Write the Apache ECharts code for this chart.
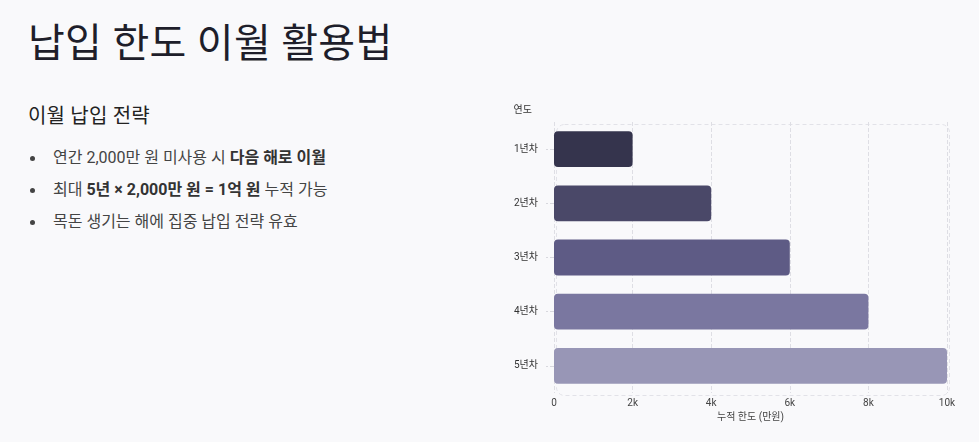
<!DOCTYPE html>
<html>
<head>
<meta charset="utf-8">
<script src="https://cdn.jsdelivr.net/npm/echarts@6/dist/echarts.min.js"></script>
<style>
  html, body { margin: 0; padding: 0; }
  body {
    width: 979px; height: 442px; background: #f9f9fb; position: relative; overflow: hidden;
    font-family: Roboto, "Noto Sans CJK KR", sans-serif; color: #222;
  }
  h1 { position: absolute; left: 28px; top: 11px; margin: 0; font-size: 40px; font-weight: 400; color: #1e1e2a; letter-spacing: 0.3px; }
  h2 { position: absolute; left: 28px; top: 100px; margin: 0; font-size: 20px; font-weight: 400; color: #222; letter-spacing: 0.2px; }
  ul { position: absolute; left: 28px; top: 142px; margin: 0; padding: 0; list-style: none; }
  li { position: relative; padding-left: 25px; font-size: 16px; color: #444; line-height: 32px; height: 32px; }
  li::before { content: ""; position: absolute; left: 2px; top: 14px; width: 5px; height: 5px; border-radius: 50%; background: #444; }
  b { color: #333; font-weight: 700; }
  #chart { position: absolute; left: 490px; top: 95px; width: 489px; height: 347px; }
</style>
</head>
<body>
<h1>납입 한도 이월 활용법</h1>
<h2>이월 납입 전략</h2>
<ul>
  <li>연간 2,000만 원 미사용 시 <b>다음 해로 이월</b></li>
  <li>최대 <b>5년 × 2,000만 원 = 1억 원</b> 누적 가능</li>
  <li>목돈 생기는 해에 집중 납입 전략 유효</li>
</ul>
<div id="chart"></div>
<script>
// 연도별 누적 한도 (만원)
const years = ['1년차', '2년차', '3년차', '4년차', '5년차'];
const limits = [2000, 4000, 6000, 8000, 10000];
const barColors = ['#35344d', '#4a4868', '#5e5b85', '#7a77a0', '#9896b6'];

const chart = echarts.init(document.getElementById('chart'));

const gridPos = { left: 64, right: 32, top: 27, bottom: 49 };

chart.setOption({
  backgroundColor: 'transparent',
  textStyle: { fontFamily: 'Roboto, "Noto Sans CJK KR", sans-serif' },
  grid: { left: gridPos.left, right: gridPos.right, top: gridPos.top, bottom: gridPos.bottom, containLabel: false },
  xAxis: {
    type: 'value',
    min: 0,
    max: 10000,
    interval: 2000,
    name: '누적 한도 (만원)',
    nameLocation: 'middle',
    nameGap: 19,
    nameTextStyle: { color: '#444', fontSize: 10 },
    axisLine: { show: false },
    axisTick: { show: false },
    axisLabel: {
      color: '#444', fontSize: 10, margin: 5,
      formatter: function (v) { return v === 0 ? '0' : (v / 1000) + 'k'; }
    },
    splitLine: { show: true, lineStyle: { color: '#dedee4', type: 'dashed' } }
  },
  yAxis: {
    type: 'category',
    data: years,
    inverse: true,
    name: '연도',
    nameLocation: 'start',
    nameGap: 7,
    nameTextStyle: { color: '#333', fontSize: 10, align: 'right', padding: [0, 22, 0, 0] },
    axisLine: { show: false },
    axisTick: { show: true, alignWithLabel: true, length: 8, lineStyle: { color: '#d8d8de', type: 'dashed' } },
    axisLabel: { color: '#333', fontSize: 10, margin: 16 },
    splitLine: { show: false }
  },
  graphic: [{
    type: 'rect',
    left: gridPos.left,
    top: gridPos.top,
    shape: { width: 489 - gridPos.left - gridPos.right, height: 347 - gridPos.top - gridPos.bottom, r: 8 },
    style: { fill: 'none', stroke: '#e2e2e8', lineWidth: 1, lineDash: [4, 3] },
    silent: true,
    z: -1
  }],
  series: [{
    type: 'bar',
    data: limits.map(function (v, i) {
      return { value: v, itemStyle: { color: barColors[i] } };
    }),
    barWidth: '66%',
    itemStyle: { borderRadius: 4 },
    silent: true
  }]
});
</script>
</body>
</html>
